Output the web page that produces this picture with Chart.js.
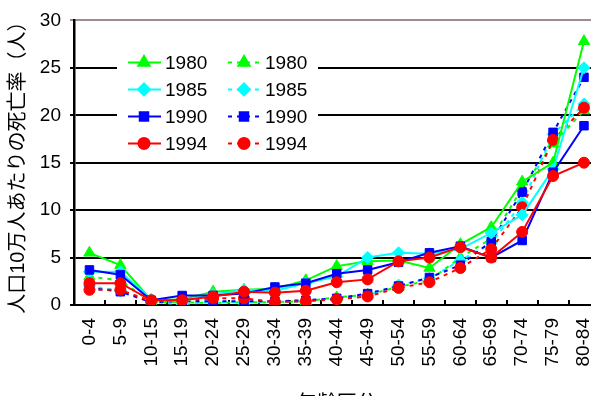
<!DOCTYPE html>
<html>
<head>
<meta charset="utf-8">
<script src="https://cdn.jsdelivr.net/npm/chart.js@4.4.1/dist/chart.umd.min.js"></script>
<style>
  html, body { margin: 0; padding: 0; background: #fff; overflow: hidden; }
  #wrap { width: 620px; height: 418px; }
</style>
</head>
<body>
<div id="wrap"><canvas id="chart" width="620" height="418"></canvas></div>
<script>
const ageGroups = ['0-4', '5-9', '10-15', '15-19', '20-24', '25-29', '30-34', '35-39', '40-44',
  '45-49', '50-54', '55-59', '60-64', '65-69', '70-74', '75-79', '80-84'];

// solid lines
const solid1980 = [5.5, 4.2, 0.5, 0.6, 1.4, 1.6, 1.7, 2.6, 4.1, 4.6, 4.7, 3.9, 6.4, 8.2, 13.0, 15.0, 27.8];
const solid1985 = [3.5, 3.5, 0.6, 0.4, 1.1, 1.6, 1.5, 2.3, 3.0, 5.0, 5.5, 5.4, 5.9, 7.6, 9.5, 14.3, 25.0];
const solid1990 = [3.7, 3.2, 0.5, 1.0, 1.0, 1.2, 1.9, 2.3, 3.3, 3.7, 4.5, 5.5, 6.2, 5.0, 6.8, 14.0, 18.9];
const solid1994 = [2.3, 2.3, 0.5, 0.5, 0.9, 1.4, 1.3, 1.5, 2.4, 2.7, 4.6, 5.0, 6.1, 5.0, 7.7, 13.6, 15.0];

// dashed lines
const dashed1980 = [3.0, 2.6, 0.3, 0.3, 0.2, 0.3, 0.3, 0.4, 0.8, 1.1, 1.9, 2.6, 5.0, 7.0, 12.3, 17.0, 20.5];
const dashed1985 = [2.0, 1.5, 0.3, 0.1, 0.3, 0.3, 0.3, 0.4, 0.6, 1.0, 2.1, 2.8, 4.7, 6.5, 10.8, 18.0, 21.2];
const dashed1990 = [1.8, 1.4, 0.3, 0.4, 0.4, 0.4, 0.4, 0.5, 0.7, 1.2, 2.0, 2.9, 4.2, 6.7, 11.9, 18.2, 24.0];
const dashed1994 = [1.6, 1.6, 0.4, 0.5, 0.7, 0.7, 0.3, 0.4, 0.6, 0.9, 1.8, 2.4, 3.9, 5.9, 10.3, 17.4, 20.8];

const yTicks = [0, 5, 10, 15, 20, 25, 30];

const FONT = "'Liberation Sans', Arial, 'Noto Sans CJK JP', sans-serif";

function series(label, data, color, style, radius, dashed, order) {
    return {
        label: label,
        data: data,
        borderColor: color,
        backgroundColor: color,
        pointBackgroundColor: color,
        pointBorderColor: color,
        pointStyle: style,
        pointRadius: radius,
        pointBorderWidth: 1,
        borderWidth: 2,
        borderDash: dashed ? [4, 5] : [],
        tension: 0,
        order: order,
    };
}

// tiny inward tick marks between categories on the x axis
const innerTicks = {
    id: 'innerTicks',
    beforeDatasetsDraw(chart) {
        const { ctx, chartArea, scales: { x } } = chart;
        ctx.save();
        ctx.strokeStyle = '#000';
        ctx.lineWidth = 2;
        for (let i = 0; i < ageGroups.length - 1; i++) {
            const px = Math.round((x.getPixelForValue(i) + x.getPixelForValue(i + 1)) / 2);
            ctx.beginPath();
            ctx.moveTo(px, chartArea.bottom);
            ctx.lineTo(px, chartArea.bottom - 5);
            ctx.stroke();
        }
        ctx.restore();
    },
};

// two-column legend: solid lines on the left, dashed on the right
const boxLegend = {
    id: 'boxLegend',
    afterDraw(chart) {
        const { ctx, chartArea } = chart;
        const left = chartArea.left + 43;
        const top = chartArea.top + 28;
        ctx.save();
        ctx.fillStyle = '#fff';
        ctx.fillRect(left, top, 201, 109);
        ctx.font = '19px ' + FONT;
        ctx.textBaseline = 'middle';
        chart.data.datasets.forEach((ds, i) => {
            const col = Math.floor(i / 4);
            const row = i % 4;
            const x0 = left + 11 + col * 100;
            const y0 = top + 14 + row * 27;
            ctx.strokeStyle = ds.borderColor;
            ctx.lineWidth = 2;
            ctx.setLineDash(ds.borderDash);
            ctx.beginPath();
            ctx.moveTo(x0, y0);
            ctx.lineTo(x0 + 33, y0);
            ctx.stroke();
            ctx.setLineDash([]);
            ctx.fillStyle = ds.pointBackgroundColor;
            Chart.helpers.drawPoint(ctx, {
                pointStyle: ds.pointStyle,
                radius: ds.pointRadius,
                borderWidth: 1,
                rotation: 0,
            }, x0 + 16, y0);
            ctx.fillStyle = '#000';
            ctx.fillText(ds.label, x0 + 37, y0 + 1);
        });
        ctx.restore();
    },
};

new Chart(document.getElementById('chart'), {
    type: 'line',
    data: {
        labels: ageGroups,
        datasets: [
            series('1980', solid1980, '#00ff00', 'triangle', 6.5, false, 4),
            series('1985', solid1985, '#00ffff', 'rectRot', 6, false, 3),
            series('1990', solid1990, '#0000ff', 'rect', 6, false, 2),
            series('1994', solid1994, '#ff0000', 'circle', 5.5, false, 1),
            series('1980', dashed1980, '#00ff00', 'triangle', 6.5, true, 8),
            series('1985', dashed1985, '#00ffff', 'rectRot', 6, true, 7),
            series('1990', dashed1990, '#0000ff', 'rect', 6, true, 6),
            series('1994', dashed1994, '#ff0000', 'circle', 5.5, true, 5),
        ],
    },
    options: {
        responsive: false,
        animation: false,
        devicePixelRatio: 1,
        layout: { padding: { top: 20, right: 5, left: 0, bottom: 0 } },
        plugins: {
            legend: { display: false },
            tooltip: { enabled: false },
        },
        scales: {
            x: {
                offset: true,
                grid: { drawOnChartArea: false, drawTicks: false },
                border: { color: '#000', width: 2 },
                ticks: {
                    color: '#000',
                    font: { family: FONT, size: 19 },
                    maxRotation: 90,
                    minRotation: 90,
                    padding: 13,
                    autoSkip: false,
                },
                title: {
                    display: true,
                    text: '年齢区分',
                    color: '#000',
                    font: { family: FONT, size: 20 },
                    padding: { top: 0, bottom: 2 },
                },
                afterFit(scale) { scale.height = 113; },
            },
            y: {
                min: 0,
                max: 30,
                afterBuildTicks(scale) { scale.ticks = yTicks.map(v => ({ value: v })); },
                grid: {
                    color: ctx => (ctx.tick && ctx.tick.value === 30 ? '#a08c8c' : '#000'),
                    lineWidth: 2,
                    tickLength: 4,
                },
                border: { color: '#000', width: 2.5 },
                ticks: {
                    color: '#000',
                    font: { family: FONT, size: 19 },
                    padding: 9,
                },
                title: {
                    display: true,
                    text: '人口10万人あたりの死亡率（人）',
                    color: '#000',
                    font: { family: FONT, size: 20 },
                    padding: { top: 6, bottom: 0 },
                },
                afterFit(scale) { scale.width = 74; },
            },
        },
    },
    plugins: [innerTicks, boxLegend],
});
</script>
</body>
</html>
